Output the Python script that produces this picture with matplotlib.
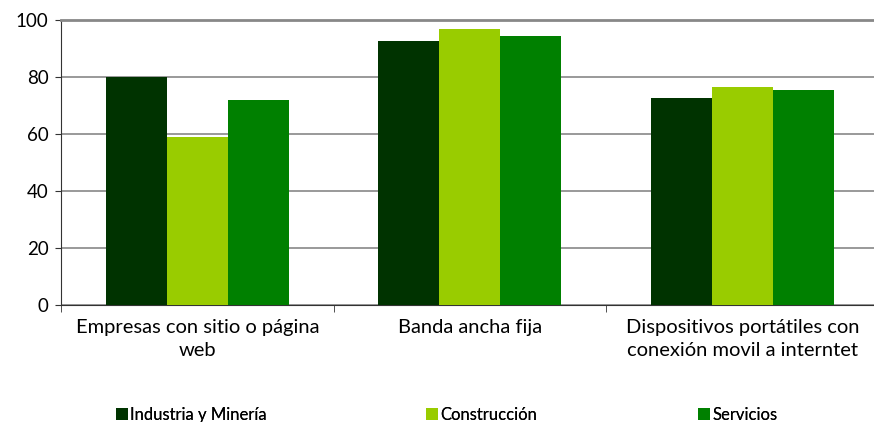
import matplotlib
matplotlib.use("Agg")
import matplotlib.pyplot as plt
import numpy as np

categories = ["Empresas con sitio o página\nweb", "Banda ancha fija",
              "Dispositivos portátiles con\nconexión movil a interntet"]
series_names = ["Industria y Minería", "Construcción", "Servicios"]
industria = [80, 92.5, 72.5]
construccion = [59, 97, 76.5]
servicios = [72, 94.5, 75.5]
colors = ["#003300", "#99CC00", "#008000"]
yticks = [0, 20, 40, 60, 80, 100]

plt.rcParams['font.family'] = ['Lato', 'DejaVu Sans']
fig = plt.figure(figsize=(8.74, 4.22), dpi=100)
ax = fig.add_axes([61/874, 1-305/422, 817.5/874, 285/422])

x = np.arange(len(categories))
w = 0.224
for i, (vals, name, c) in enumerate(zip([industria, construccion, servicios], series_names, colors)):
    ax.bar(x + (i-1)*w, vals, w, color=c, label=name, zorder=3)

ax.set_xlim(-0.5, 2.5)
ax.set_ylim(0, 100)
ax.set_yticks(yticks)
ax.set_yticklabels([str(v) for v in yticks], fontsize=13.5)
ax.yaxis.grid(True, color="#888888", linewidth=1.2, zorder=0)
ax.set_xticks(x)
ax.set_xticklabels(categories, fontsize=14.5, linespacing=1.45)
ax.set_xticks([-0.5, 0.5, 1.5, 2.5], minor=True)
ax.tick_params(axis='x', which='major', length=0, pad=10)
ax.tick_params(axis='x', which='minor', length=5, color="#333333")
ax.tick_params(axis='y', length=4, color="#333333", pad=5)
ax.spines["right"].set_visible(False)
ax.spines["top"].set_color("#888888")
ax.spines["top"].set_linewidth(2)
ax.spines["left"].set_color("#333333")
ax.spines["bottom"].set_color("#333333")

handles, labels = ax.get_legend_handles_labels()
legend_x = [116/874, 426/874, 698/874]
for h, l, lx in zip(handles, labels, legend_x):
    leg = fig.legend([h], [l], loc="center left", bbox_to_anchor=(lx, 1-415/422),
                     frameon=False, fontsize=12, borderpad=0, borderaxespad=0,
                     handlelength=0.7, handleheight=0.7, handletextpad=0.15)
    fig.add_artist(leg)
fig.savefig("out.png", dpi=100)
